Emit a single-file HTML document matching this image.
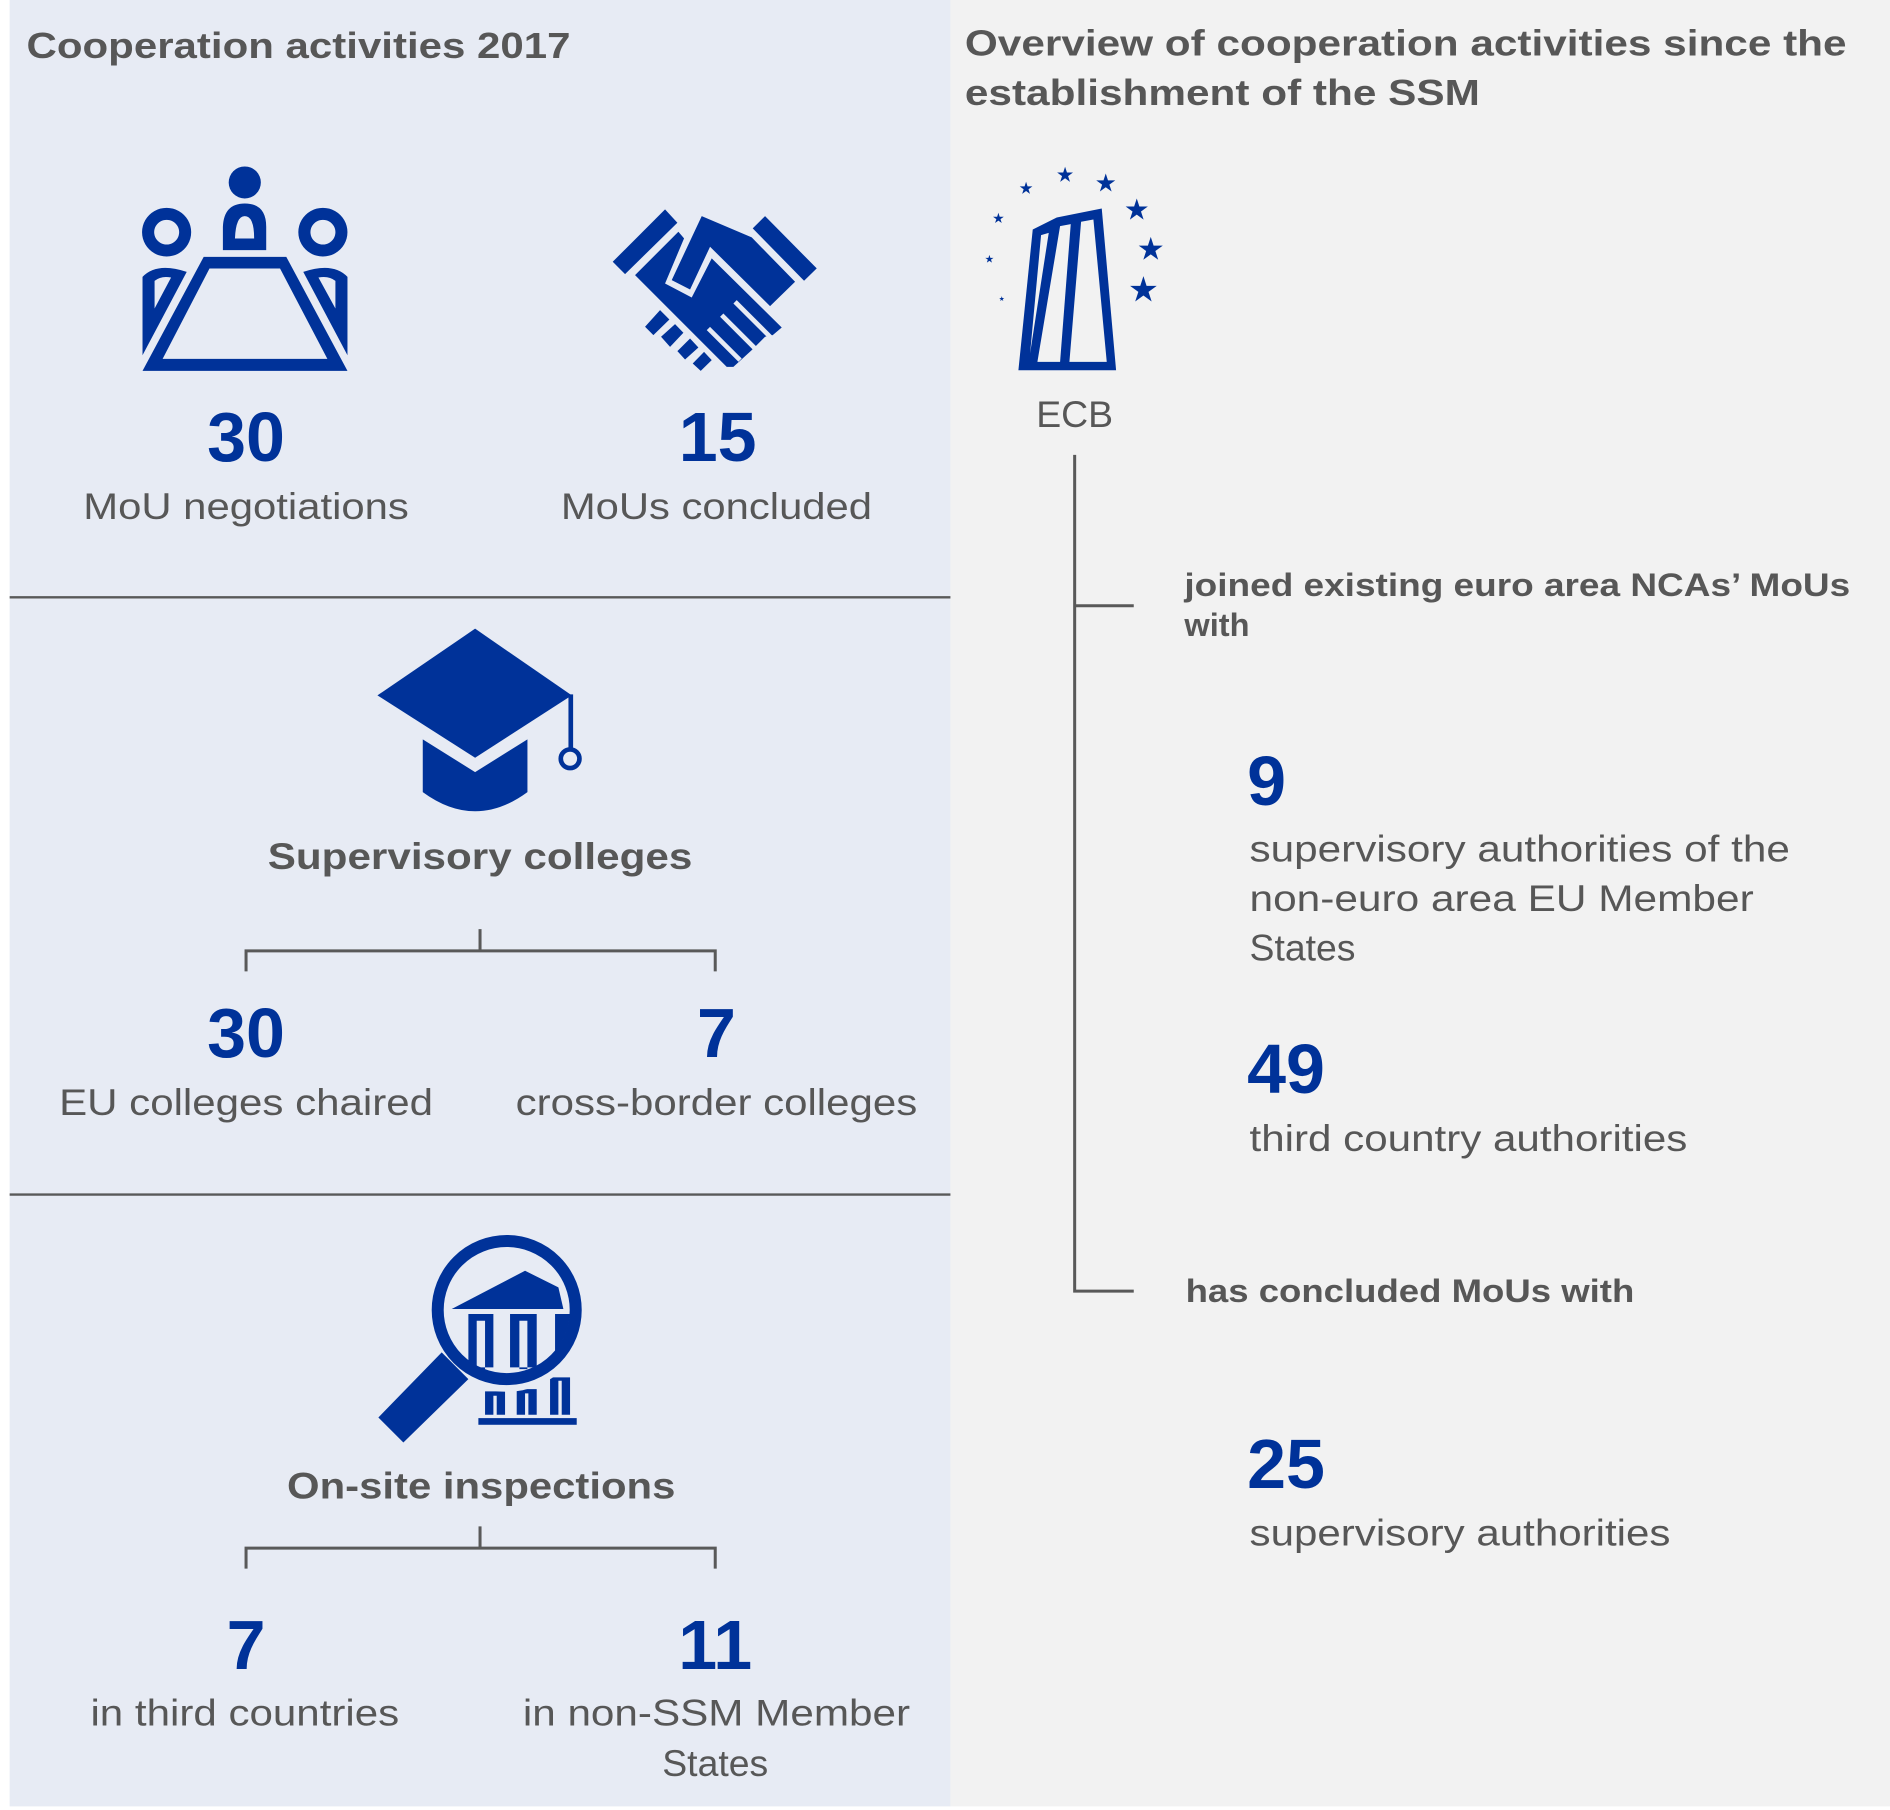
<!DOCTYPE html>
<html><head><meta charset="utf-8"><style>
html,body{margin:0;padding:0;background:#fff;}
svg{display:block;}
text{font-family:"Liberation Sans",Arial,sans-serif;fill:#575757;}
.b{font-weight:bold;}
.n{font-weight:bold;fill:#003299;font-size:58px;}
.l{font-size:31px;}
</style></head><body>
<svg width="1890" height="1810" viewBox="0 0 1567 1500" preserveAspectRatio="none" xmlns="http://www.w3.org/2000/svg">
<defs>
<polygon id="st" points="0,-1 0.2245,-0.309 0.951,-0.309 0.3633,0.118 0.5878,0.809 0,0.382 -0.5878,0.809 -0.3633,0.118 -0.951,-0.309 -0.2245,-0.309"/>
</defs>
<rect x="0" y="0" width="1567" height="1500" fill="#fff"/>
<rect x="8" y="0" width="780" height="1497" fill="#e7ebf4"/>
<rect x="788" y="0" width="779" height="1497" fill="#f2f2f2"/>

<!-- Left titles -->
<text class="b" x="22" y="48" font-size="30" textLength="451" lengthAdjust="spacingAndGlyphs">Cooperation activities 2017</text>

<!-- meeting icon -->
<g transform="translate(107.8,132.7) scale(0.3702,0.2764)" fill="#003299" fill-rule="evenodd">
<ellipse cx="257" cy="67" rx="36" ry="48"/>
<path d="M208,270 L208,200 Q210,130 257,130 Q305,130 305,200 L305,270 Z M235,235 L278,235 Q278,168 257,168 Q237,168 235,235 Z"/>
<path d="M165,290 L350,290 L487,632 L28,632 Z M178,325 L73,596 L442,596 L336,325 Z"/>
<path d="M82,143 A55,73 0 1 1 81.9,143 Z M82,179 A28,37 0 1 0 82.1,179 Z"/>
<path d="M432,143 A55,73 0 1 1 431.9,143 Z M432,179 A28,37 0 1 0 432.1,179 Z"/>
<path d="M28,350 Q60,305 127,335 L28,585 Z M55,362 Q70,346 92,352 L55,445 Z"/>
<path d="M487,350 Q455,305 388,335 L487,585 Z M460,362 Q445,346 422,352 L460,445 Z"/>
</g>

<!-- handshake -->
<g transform="translate(497.5,165.8) scale(0.2764)" fill="#003299">
<polygon points="38,185 195,28 232,68 75,222"/>
<polygon points="458,85 495,48 650,205 612,242"/>
<polygon points="305,48 455,112 585,245 510,318 330,140 270,268 215,240"/>
<polygon points="105,225 235,95 252,115 195,250 275,292 335,175 545,382 518,405 495,410 455,450 400,500 380,500"/>
<g stroke="#e7ebf4" stroke-width="14">
<line x1="405" y1="305" x2="520" y2="420"/>
<line x1="365" y1="345" x2="475" y2="455"/>
<line x1="325" y1="385" x2="420" y2="480"/>
</g>
<polygon points="135,380 180,330 208,358 160,405"/>
<polygon points="183,410 225,372 250,398 210,440"/>
<polygon points="232,453 270,415 295,442 255,478"/>
<polygon points="278,490 312,455 335,480 302,512"/>
</g>

<text class="n" x="204" y="382" text-anchor="middle">30</text>
<text class="n" x="595" y="382" text-anchor="middle">15</text>
<text class="l" x="204" y="430" text-anchor="middle" textLength="270" lengthAdjust="spacingAndGlyphs">MoU negotiations</text>
<text class="l" x="594" y="430" text-anchor="middle" textLength="258" lengthAdjust="spacingAndGlyphs">MoUs concluded</text>

<line x1="8" y1="495" x2="788" y2="495" stroke="#595959" stroke-width="2"/>
<line x1="8" y1="990" x2="788" y2="990" stroke="#595959" stroke-width="2"/>

<!-- grad cap -->
<g transform="translate(248.8,514.1) scale(0.2764)" fill="#003299">
<polygon points="525,25 815,225 525,412 232,225"/>
<path d="M368,357 L525,455 L682,357 L682,515 Q525,630 368,515 Z"/>
<line x1="812" y1="222" x2="812" y2="388" stroke="#003299" stroke-width="14"/>
<circle cx="810" cy="415" r="28" fill="#e7ebf4" stroke="#003299" stroke-width="14"/>
</g>

<text class="b" x="398" y="720" text-anchor="middle" font-size="31" textLength="352" lengthAdjust="spacingAndGlyphs">Supervisory colleges</text>
<path d="M398,770 V788 M204,805 V788 H593 V805" fill="none" stroke="#595959" stroke-width="2.5"/>
<text class="n" x="204" y="876" text-anchor="middle">30</text>
<text class="n" x="594" y="876" text-anchor="middle">7</text>
<text class="l" x="204" y="924" text-anchor="middle" textLength="310" lengthAdjust="spacingAndGlyphs">EU colleges chaired</text>
<text class="l" x="594" y="924" text-anchor="middle" textLength="333" lengthAdjust="spacingAndGlyphs">cross-border colleges</text>

<!-- magnifier -->
<g transform="translate(298.5,1011.6) scale(0.2764)" fill="#003299">
<path d="M375,512 H435 V582 H375 Z M400,525 V582 H410 V525 Z" fill-rule="evenodd"/>
<path d="M470,505 H530 V582 H470 Z M495,518 V582 H505 V518 Z" fill-rule="evenodd"/>
<path d="M570,470 H630 V582 H570 Z M595,480 V582 H605 V480 Z" fill-rule="evenodd"/>
<rect x="355" y="592" width="295" height="20"/>
<circle cx="440" cy="268" r="245" fill="#e7ebf4"/>
<polygon points="245,395 325,475 130,665 55,590"/>
<polygon points="275,265 495,150 595,200 610,265"/>
<clipPath id="lens"><circle cx="440" cy="268" r="190"/></clipPath>
<g clip-path="url(#lens)">
<path d="M325,280 H400 V440 H325 Z M350,300 V445 H375 V300 Z" fill-rule="evenodd"/>
<path d="M450,280 H530 V440 H450 Z M478,300 V445 H502 V300 Z" fill-rule="evenodd"/>
<path d="M585,280 H640 V440 H585 Z" />
</g>
<circle cx="440" cy="268" r="207" fill="none" stroke="#003299" stroke-width="36"/>
</g>

<text class="b" x="399" y="1242" text-anchor="middle" font-size="31" textLength="322" lengthAdjust="spacingAndGlyphs">On-site inspections</text>
<path d="M398,1265 V1283 M204,1300 V1283 H593 V1300" fill="none" stroke="#595959" stroke-width="2.5"/>
<text class="n" x="204" y="1383" text-anchor="middle">7</text>
<text class="n" x="593" y="1383" text-anchor="middle">11</text>
<text class="l" x="203" y="1430" text-anchor="middle" textLength="256" lengthAdjust="spacingAndGlyphs">in third countries</text>
<text class="l" x="594" y="1430" text-anchor="middle" textLength="321" lengthAdjust="spacingAndGlyphs">in non-SSM Member</text>
<text class="l" x="593" y="1472" text-anchor="middle">States</text>

<!-- Right -->
<text class="b" x="800" y="46" font-size="30" textLength="731" lengthAdjust="spacingAndGlyphs">Overview of cooperation activities since the</text>
<text class="b" x="800" y="87" font-size="30" textLength="427" lengthAdjust="spacingAndGlyphs">establishment of the SSM</text>

<g transform="translate(787.7,116.1) scale(0.2764)" fill="#003299">
<polygon points="205,690 248,268 320,232 455,205 498,690"/>
<g fill="#f2f2f2">
<polygon points="240,640 273,285 296,278"/>
<polygon points="262,665 330,258 362,252 330,665"/>
<polygon points="358,665 393,245 430,238 470,665"/>
</g>
<use href="#st" transform="translate(345,105) scale(25)"/>
<use href="#st" transform="translate(467,130) scale(30)"/>
<use href="#st" transform="translate(228,145) scale(20)"/>
<use href="#st" transform="translate(560,210) scale(35)"/>
<use href="#st" transform="translate(145,235) scale(17)"/>
<use href="#st" transform="translate(602,328) scale(38)"/>
<use href="#st" transform="translate(580,450) scale(42)"/>
<use href="#st" transform="translate(118,357) scale(13)"/>
<use href="#st" transform="translate(155,476) scale(8)"/>
</g>
<text x="891" y="354" text-anchor="middle" font-size="31">ECB</text>

<path d="M891,377 V1070 H940 M891,502 H940" fill="none" stroke="#595959" stroke-width="2.5"/>
<text class="b" x="982" y="494" font-size="27" textLength="552" lengthAdjust="spacingAndGlyphs">joined existing euro area NCAs’ MoUs</text>
<text class="b" x="982" y="527" font-size="27">with</text>
<text class="n" x="1034" y="667">9</text>
<text class="l" x="1036" y="714" textLength="448" lengthAdjust="spacingAndGlyphs">supervisory authorities of the</text>
<text class="l" x="1036" y="755" textLength="418" lengthAdjust="spacingAndGlyphs">non-euro area EU Member</text>
<text class="l" x="1036" y="796">States</text>
<text class="n" x="1034" y="906">49</text>
<text class="l" x="1036" y="954" textLength="363" lengthAdjust="spacingAndGlyphs">third country authorities</text>
<text class="b" x="983" y="1079" font-size="27" textLength="372" lengthAdjust="spacingAndGlyphs">has concluded MoUs with</text>
<text class="n" x="1034" y="1233">25</text>
<text class="l" x="1036" y="1281" textLength="349" lengthAdjust="spacingAndGlyphs">supervisory authorities</text>
</svg>
</body></html>
